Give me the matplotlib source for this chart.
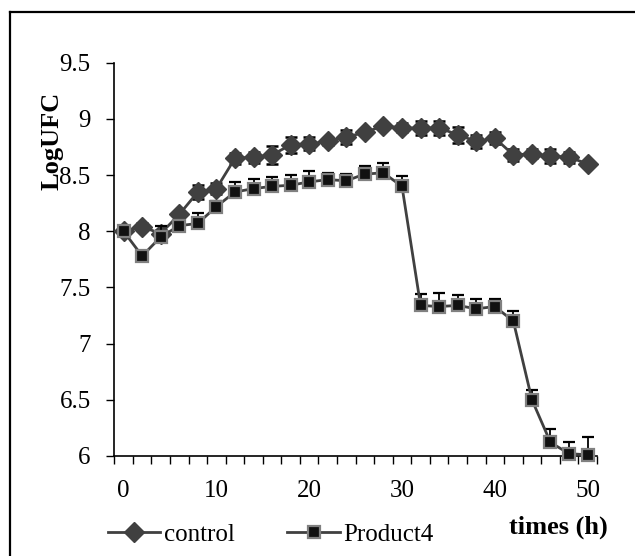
import matplotlib.pyplot as plt
from matplotlib.lines import Line2D

plt.rcParams['font.family'] = ['Liberation Serif', 'DejaVu Serif']

times = [0, 2, 4, 6, 8, 10, 12, 14, 16, 18, 20, 22, 24, 26, 28, 30, 32, 34, 36, 38, 40, 42, 44, 46, 48, 50]
control = [8.00, 8.04, 7.98, 8.15, 8.35, 8.38, 8.65, 8.66, 8.68, 8.77, 8.78, 8.80, 8.84,
           8.88, 8.94, 8.92, 8.92, 8.92, 8.86, 8.80, 8.83, 8.68, 8.69, 8.67, 8.66, 8.60]
control_err = [0.02, 0.03, 0.03, 0.03, 0.06, 0.05, 0.05, 0.05, 0.08, 0.07, 0.06, 0.03, 0.06,
               0.02, 0.02, 0.04, 0.06, 0.06, 0.07, 0.06, 0.05, 0.05, 0.04, 0.06, 0.05, 0.02]
product4 = [8.00, 7.78, 7.95, 8.05, 8.07, 8.22, 8.35, 8.38, 8.40, 8.41, 8.44, 8.46, 8.45,
            8.51, 8.52, 8.40, 7.34, 7.33, 7.34, 7.31, 7.33, 7.20, 6.50, 6.12, 6.02, 6.01]
product4_err = [0.02, 0.02, 0.10, 0.03, 0.09, 0.05, 0.09, 0.09, 0.08, 0.09, 0.10, 0.06, 0.06,
                0.07, 0.09, 0.09, 0.10, 0.12, 0.09, 0.09, 0.07, 0.09, 0.09, 0.12, 0.10, 0.16]
x_labels = [0, 10, 20, 30, 40, 50]
y_ticks = [6, 6.5, 7, 7.5, 8, 8.5, 9, 9.5]

fig = plt.figure(figsize=(6.35, 5.56), dpi=100)
ax = fig.add_axes([0.180, 0.180, 0.760, 0.707])

line_col = '#404040'
ax.errorbar(times, control, yerr=control_err, color=line_col, lw=2, marker='D', ms=10,
            mfc='#404040', mec='#404040', ecolor='black', elinewidth=1.3, capsize=4.5,
            capthick=1.8, clip_on=False, zorder=3, label='control')
ax.errorbar(times, product4, yerr=[[0] * len(product4_err), product4_err], color=line_col, lw=2,
            marker='s', ms=9, mfc='#111111', mec='#808080', mew=1.6, ecolor='black',
            elinewidth=1.3, capsize=4.5, capthick=1.8, clip_on=False, zorder=4, label='Product4')

ax.set_xlim(-1, 51)
ax.set_ylim(6, 9.5)
ax.set_xticks(x_labels)
ax.set_xticklabels([str(v) for v in x_labels])
ax.set_xticks([t + 1 for t in [-2] + times], minor=True)
ax.tick_params(axis='x', which='major', length=0, pad=17, labelsize=18)
ax.tick_params(axis='x', which='minor', length=6, width=1, direction='out')
ax.set_yticks(y_ticks)
ax.set_yticklabels(['%g' % v for v in y_ticks])
ax.tick_params(axis='y', length=6, width=1, direction='out', pad=11, labelsize=18)
for s in ['top', 'right']:
    ax.spines[s].set_visible(False)
for s in ['left', 'bottom']:
    ax.spines[s].set_linewidth(1.2)

fig.text(0.082, 0.746, 'LogUFC', rotation=90, ha='center', va='center',
         fontsize=19, fontweight='bold')
fig.text(0.879, 0.052, 'times (h)', ha='center', va='center', fontsize=19, fontweight='bold')

handles = [Line2D([], [], color=line_col, lw=2, marker='D', ms=10, mfc='#404040', mec='#404040'),
           Line2D([], [], color=line_col, lw=2, marker='s', ms=9, mfc='#111111', mec='#808080', mew=1.6)]
fig.legend(handles, ['control', 'Product4'], loc='center left', bbox_to_anchor=(0.150, 0.038),
           ncol=2, frameon=False, fontsize=18, borderpad=0, handlelength=2.1,
           handletextpad=0.15, columnspacing=2.1)

# frame of the original figure (top and left edges only)
fig.add_artist(Line2D([10 / 635, 1], [1 - 11.5 / 556, 1 - 11.5 / 556], color='black', lw=1.6))
fig.add_artist(Line2D([10 / 635, 10 / 635], [0, 1 - 11.5 / 556], color='black', lw=1.6))

fig.savefig('out.png', dpi=100)
